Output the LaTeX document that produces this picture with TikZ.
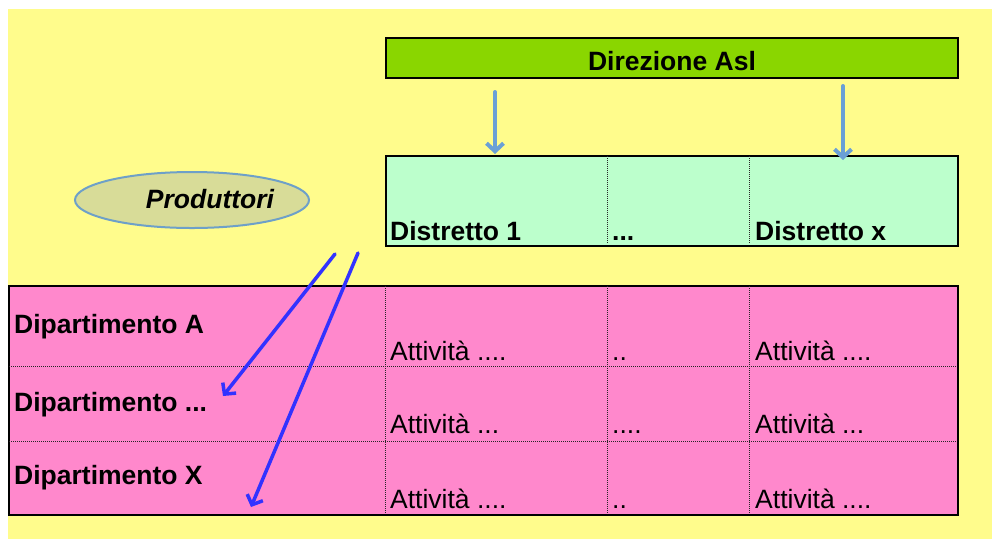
\documentclass[tikz,border=0pt]{standalone}
\usepackage{fontspec}
\setmainfont{Liberation Sans}
\usetikzlibrary{positioning,arrows.meta,shapes.geometric}

\definecolor{bgyellow}{RGB}{255,252,140}
\definecolor{dirgreen}{RGB}{138,214,0}
\definecolor{distmint}{RGB}{188,255,204}
\definecolor{tabpink}{RGB}{255,136,204}
\definecolor{ellfill}{RGB}{216,220,152}
\definecolor{ellline}{RGB}{110,160,200}
\definecolor{arrlight}{RGB}{106,160,214}
\definecolor{arrblue}{RGB}{50,50,255}

\begin{document}
\begin{tikzpicture}[x=1pt,y=-1pt]
		\tikzset{box/.style = {draw=black,line width=1.5pt,inner sep=0pt,anchor=north west}}
		\tikzset{txt/.style = {inner sep=0pt,anchor=base west,font=\fontsize{26.5}{30}\selectfont}}
		\tikzset{bold/.style = {txt,font=\fontsize{26.5}{30}\selectfont\bfseries}}
		\tikzset{grid/.style = {line width=1pt,dash pattern=on 1pt off 1pt,black!85}}
		\tikzset{func/.style = {->,>={Straight Barb[length=8pt,width=17pt]},line width=3.5pt,line cap=round}}

		% background
		\fill[white] (0,0) rectangle (992,539);
		\fill[bgyellow] (8,9) rectangle (992,539);

		% direzione
		\node[box,fill=dirgreen,minimum width=572pt,minimum height=40pt] (dir) at (385,37){};
		\node[bold,anchor=base] (dirtxt) at (672,70){Direzione Asl};

		% distretti
		\node[box,fill=distmint,minimum width=572pt,minimum height=90pt] (distr) at (385,155){};
		\draw[grid] (607,156) -- (607,244);
		\draw[grid] (749,156) -- (749,244);
		\node[bold] (d1) at (390,240){Distretto 1};
		\node[bold] (ddots) at (612,240){...};
		\node[bold] (dx) at (755,240){Distretto x};

		% produttori
		\node[ellipse,draw=ellline,line width=2pt,fill=ellfill,minimum width=234pt,minimum height=56pt,inner sep=0pt] (prod) at (192,200){};
		\node[bold,anchor=center,font=\fontsize{26.5}{30}\selectfont\bfseries\itshape] (prodtxt) at (210,199){Produttori};

		% dipartimenti
		\node[box,fill=tabpink,minimum width=949pt,minimum height=229pt] (tab) at (8,285){};
		\draw[grid] (9,366) -- (956,366);
		\draw[grid] (9,441) -- (956,441);
		\foreach \x in {385,607,749}
			\draw[grid] (\x,286) -- (\x,513);
		\node[bold] (depa) at (14,333){Dipartimento A};
		\node[bold] (depdots) at (14,411){Dipartimento ...};
		\node[bold] (depx) at (14,484){Dipartimento X};

		% attivita
		\node[txt] (att1) at (390,360){Attività ....};
		\node[txt] (att2) at (390,433){Attività ...};
		\node[txt] (att3) at (390,508){Attività ....};
		\node[txt] (mid1) at (612,360){..};
		\node[txt] (mid2) at (612,433){....};
		\node[txt] (mid3) at (612,508){..};
		\node[txt] (attx1) at (755,360){Attività ....};
		\node[txt] (attx2) at (755,433){Attività ...};
		\node[txt] (attx3) at (755,508){Attività ....};

		% arrows direzione -> distretti
		\coordinate (a1) at (495,92);
		\coordinate (a2) at (843,86);
		\draw[func,arrlight,line width=4pt] (a1) to ([yshift=1pt]a1 |- distr.north);
		\draw[func,arrlight,line width=4pt] (a2) to ([yshift=-5pt]a2 |- distr.north);

		% arrows produttori -> dipartimenti
		\coordinate (p1) at (335,254);
		\coordinate (p2) at (358,253);
		\coordinate (t1) at (223,396);
		\coordinate (t2) at (251,507);
		\draw[func,arrblue] (p1) to (t1);
		\draw[func,arrblue] (p2) to (t2);
	\end{tikzpicture}
\end{document}
